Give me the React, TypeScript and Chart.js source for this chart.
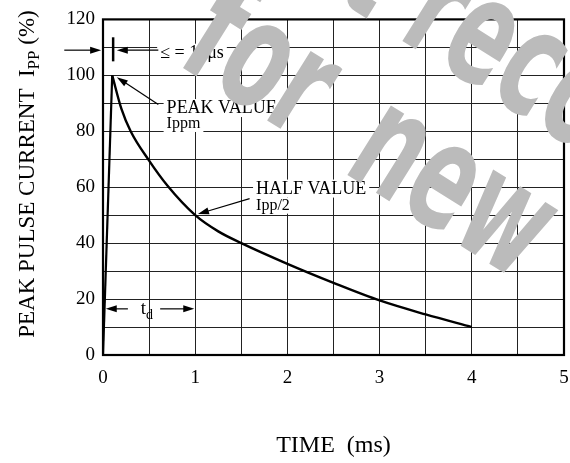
import { useEffect, useRef } from "react";
import { Chart, registerables } from "chart.js";

Chart.register(...registerables);

// ---- data ----
const riseTime = [0, 0.1];
const risePct = [0, 100];
const decayTime = [0.1, 0.2, 0.3, 0.5, 0.7, 1, 1.25, 1.5, 2, 2.5, 3, 3.5, 4];
const decayPct = [100, 88, 80, 69.5, 60.5, 50, 44.2, 40, 32.6, 25.8, 19.5, 14.5, 10];

const xTickValues = [0, 1, 2, 3, 4, 5];
const yTickValues = [0, 20, 40, 60, 80, 100, 120];

const xTitle = "TIME  (ms)";
const yTitleMain = "PEAK PULSE CURRENT  I";
const yTitleSub = "PP";
const yTitleEnd = " (%)";

const pulseWidthText = "\u2264 = 10\u03bcs";
const peakText = "PEAK VALUE";
const peakSubText = "Ippm";
const halfText = "HALF VALUE";
const halfSubText = "Ipp/2";
const tdMain = "t";
const tdSub = "d";
const watermarkNot = "Not ";
const watermarkRec = "recommended";
const watermarkFor = "for";
const watermarkNew = "new";

const SERIF = "'Liberation Serif', 'Times New Roman', serif";

function arrow(ctx: CanvasRenderingContext2D, x1: number, y1: number, x2: number, y2: number, head = 11, half = 3.5) {
  const a = Math.atan2(y2 - y1, x2 - x1);
  ctx.beginPath();
  ctx.moveTo(x1, y1);
  ctx.lineTo(x2 - Math.cos(a) * head * 0.8, y2 - Math.sin(a) * head * 0.8);
  ctx.stroke();
  ctx.beginPath();
  ctx.moveTo(x2, y2);
  ctx.lineTo(x2 - Math.cos(a) * head - Math.sin(a) * half, y2 - Math.sin(a) * head + Math.cos(a) * half);
  ctx.lineTo(x2 - Math.cos(a) * head + Math.sin(a) * half, y2 - Math.sin(a) * head - Math.cos(a) * half);
  ctx.closePath();
  ctx.fill();
}

function boxText(ctx: CanvasRenderingContext2D, text: string, x: number, y: number, size: number) {
  ctx.font = `${size}px ${SERIF}`;
  const w = ctx.measureText(text).width;
  ctx.fillStyle = "#fff";
  ctx.fillRect(x - 3, y - size * 0.78, w + 6, size * 1.0);
  ctx.fillStyle = "#000";
  ctx.textAlign = "left";
  ctx.textBaseline = "alphabetic";
  ctx.fillText(text, x, y);
}

function watermarkWord(ctx: CanvasRenderingContext2D, text: string, bx: number, by: number, lead = "") {
  const ang = (32 * Math.PI) / 180;
  ctx.save();
  ctx.translate(bx, by);
  ctx.rotate(ang);
  ctx.scale(0.6, 1);
  const off = lead ? ctx.measureText(lead).width : 0;
  ctx.fillText(lead + text, -off, 0);
  ctx.restore();
}

const annotationPlugin = {
  id: "annotations",
  afterDatasetsDraw(chart: any) {
    const ctx: CanvasRenderingContext2D = chart.ctx;
    const xs = chart.scales.x;
    const ys = chart.scales.y;
    const X = (v: number) => xs.getPixelForValue(v);
    const Y = (v: number) => ys.getPixelForValue(v);
    const a = chart.chartArea;
    ctx.save();
    ctx.strokeStyle = "#000";
    ctx.fillStyle = "#000";
    ctx.lineWidth = 1.2;

    // pulse width marker
    arrow(ctx, X(-0.42), Y(109), X(-0.02), Y(109));
    ctx.lineWidth = 2.5;
    ctx.beginPath();
    ctx.moveTo(X(0.11), Y(105));
    ctx.lineTo(X(0.11), Y(113.6));
    ctx.stroke();
    ctx.lineWidth = 1.2;
    boxText(ctx, pulseWidthText, X(0.62), Y(106.3), 18);
    ctx.strokeStyle = "#000";
    ctx.fillStyle = "#000";
    ctx.lineWidth = 1.2;
    arrow(ctx, X(0.6), Y(109), X(0.15), Y(109));

    // peak value
    boxText(ctx, peakText, X(0.69), Y(86.5), 18);
    boxText(ctx, peakSubText, X(0.69), Y(81), 16);
    ctx.fillStyle = "#000";
    arrow(ctx, X(0.6), Y(89.6), X(0.15), Y(99.3));

    // half value
    boxText(ctx, halfText, X(1.66), Y(57.7), 18);
    boxText(ctx, halfSubText, X(1.66), Y(51.8), 16);
    ctx.fillStyle = "#000";
    arrow(ctx, X(1.59), Y(55.9), X(1.03), Y(50.4));

    // t_d
    arrow(ctx, X(0.27), Y(16.5), X(0.03), Y(16.5));
    arrow(ctx, X(0.62), Y(16.5), X(0.99), Y(16.5));
    ctx.font = `19px ${SERIF}`;
    ctx.textAlign = "left";
    ctx.textBaseline = "alphabetic";
    const tx = X(0.41);
    ctx.fillText(tdMain, tx, Y(16.5) + 5);
    const tw = ctx.measureText(tdMain).width;
    ctx.font = `14px ${SERIF}`;
    ctx.fillText(tdSub, tx + tw, Y(16.5) + 10);

    // frame
    ctx.lineWidth = 2.2;
    ctx.strokeRect(a.left, a.top, a.right - a.left, a.bottom - a.top);

    // axis titles
    ctx.font = `24px ${SERIF}`;
    ctx.textAlign = "center";
    ctx.fillText(xTitle, (a.left + a.right) / 2, 452);

    ctx.save();
    ctx.translate(34, 174);
    ctx.rotate(-Math.PI / 2);
    ctx.font = `23px ${SERIF}`;
    const w1 = ctx.measureText(yTitleMain).width;
    ctx.font = `17px ${SERIF}`;
    const w2 = ctx.measureText(yTitleSub).width;
    ctx.font = `23px ${SERIF}`;
    const w3 = ctx.measureText(yTitleEnd).width;
    let sx = -(w1 + w2 + w3) / 2;
    ctx.textAlign = "left";
    ctx.fillText(yTitleMain, sx, 0);
    sx += w1;
    ctx.font = `17px ${SERIF}`;
    ctx.fillText(yTitleSub, sx, 5);
    sx += w2;
    ctx.font = `23px ${SERIF}`;
    ctx.fillText(yTitleEnd, sx, 0);
    ctx.restore();

    // watermark
    ctx.fillStyle = "#bbbbbb";
    ctx.font = "bold 150px 'DejaVu Sans', sans-serif";
    ctx.textAlign = "left";
    ctx.textBaseline = "alphabetic";
    watermarkWord(ctx, watermarkRec, 396, 37, watermarkNot);
    watermarkWord(ctx, watermarkFor, 175, 63);
    watermarkWord(ctx, watermarkNew, 341, 171);

    ctx.restore();
  },
};

export default function App() {
  const ref = useRef<HTMLCanvasElement | null>(null);
  useEffect(() => {
    document.body.style.margin = "0";
    const canvas = ref.current;
    if (!canvas) return;
    const chart = new Chart(canvas, {
      type: "line",
      data: {
        datasets: [
          {
            data: riseTime.map((t, i) => ({ x: t, y: risePct[i] })),
            borderColor: "#000",
            borderWidth: 2.2,
            pointRadius: 0,
            tension: 0,
          },
          {
            data: decayTime.map((t, i) => ({ x: t, y: decayPct[i] })),
            borderColor: "#000",
            borderWidth: 2.4,
            pointRadius: 0,
            cubicInterpolationMode: "monotone",
          },
        ],
      },
      options: {
        animation: false,
        responsive: true,
        maintainAspectRatio: false,
        layout: { padding: { top: 14, right: 6, left: 0, bottom: 0 } },
        plugins: { legend: { display: false }, tooltip: { enabled: false }, title: { display: false } },
        scales: {
          x: {
            type: "linear",
            min: 0,
            max: 5,
            ticks: {
              stepSize: 0.5,
              padding: 12,
              color: "#000",
              maxRotation: 0,
              autoSkip: false,
              font: { family: SERIF, size: 19 },
              callback: (v: any) => (xTickValues.includes(Number(v)) ? String(v) : ""),
            },
            grid: { color: "#222", lineWidth: 1, drawTicks: false },
            border: { display: false },
            afterFit: (s: any) => {
              s.height = 108;
              s.paddingLeft = 0;
              s.paddingRight = 0;
            },
          },
          y: {
            min: 0,
            max: 120,
            ticks: {
              stepSize: 10,
              padding: 8,
              color: "#000",
              autoSkip: false,
              font: { family: SERIF, size: 19 },
              callback: (v: any) => (yTickValues.includes(Number(v)) ? String(v) : ""),
            },
            grid: { color: "#222", lineWidth: 1, drawTicks: false },
            border: { display: false },
            afterFit: (s: any) => {
              s.width = 103;
            },
          },
        },
      },
      plugins: [annotationPlugin],
    });
    return () => chart.destroy();
  }, []);
  return (
    <div style={{ width: 570, height: 463, position: "relative" }}>
      <canvas ref={ref} />
    </div>
  );
}
